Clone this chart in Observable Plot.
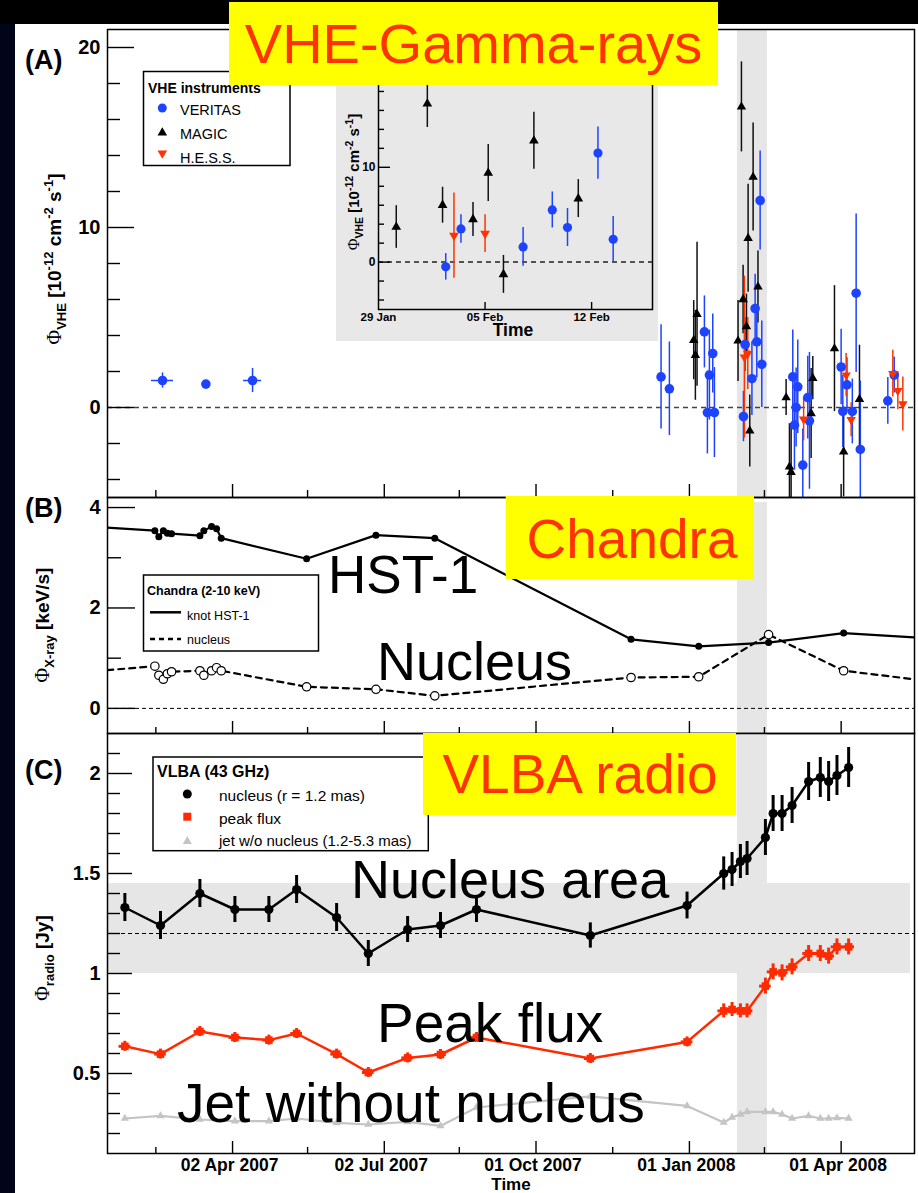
<!DOCTYPE html>
<html><head><meta charset="utf-8">
<script src="https://cdn.jsdelivr.net/npm/d3@7"></script>
<script src="https://cdn.jsdelivr.net/npm/@observablehq/plot@0.6"></script>
<style>
html,body{margin:0;padding:0;background:#000;}
#page{position:relative;width:918px;height:1193px;overflow:hidden;background:#000;font-family:"Liberation Sans",Arial,sans-serif;}
#leftstrip{position:absolute;left:0;top:24px;width:15px;height:1169px;background:#02041a;}
#sheet{position:absolute;left:15px;top:24px;width:903px;height:1169px;background:#fff;}
</style></head>
<body><div id="page"><div id="leftstrip"></div><div id="sheet"></div></div>
<script>
// ---------------- DATA ----------------
const xDomainDates = ["2007-01-17", "2008-05-15"];
const xTickDates = ["2007-04-02", "2007-07-02", "2007-10-01", "2008-01-01", "2008-04-01"];
const xTickLabels = ["02 Apr 2007", "02 Jul 2007", "01 Oct 2007", "01 Jan 2008", "01 Apr 2008"];
const xMinorDates = ["2007-02-15", "2007-05-17", "2007-08-16", "2007-11-16", "2008-02-15"];
const flareWindow = ["2008-01-29T19:00", "2008-02-16T19:00"];

// (A) VHE gamma rays [1e-12 cm^-2 s^-1]
const veritasDates = ["2007-02-19","2007-03-17","2007-04-14","2007-12-15","2007-12-20","2008-01-10","2008-01-11T19:00","2008-01-13","2008-01-15","2008-01-16","2008-02-02T10:00","2008-02-03T10:00","2008-02-07T12:00","2008-02-09T10:00","2008-02-10T10:00","2008-02-12T10:00","2008-02-13T10:00","2008-03-03","2008-03-04","2008-03-05","2008-03-06","2008-03-09","2008-03-12","2008-03-13","2008-04-01","2008-04-02","2008-04-04T12:00","2008-04-07T17:00","2008-04-10","2008-04-12T12:00","2008-04-29","2008-05-02T20:00"];
const veritasFlux = [1.5,1.3,1.5,1.7,1.04,4.2,-0.28,1.8,3.0,-0.28,-0.5,3.5,1.6,5.5,3.65,11.5,2.4,1.7,-0.98,0.0,1.15,-3.2,0.55,-0.74,2.25,-0.22,1.26,-0.22,6.35,-2.33,0.37,1.8];
const veritasErr = [0.42,0,0.67,2.9,2.6,2.0,2.3,2.5,2.2,2.5,1.4,1.5,2.05,1.9,2.0,2.75,2.4,2.6,2.5,2.2,2.6,2.0,2.3,3.8,2.1,2.0,1.5,1.8,4.4,3.8,1.3,1.0];
const veritasTimeErr = [6.6,0,5.4,0,0,0,0,0,0,0,0,0,0,0,0,0,0,0,0,0,0,0,0,0,0,0,0,0,0,0,0,0];

const magicDates = ["2008-01-03T14:00","2008-01-04T14:00","2008-01-05T14:00","2008-01-30T04:00","2008-02-01T05:00","2008-02-02T05:00","2008-02-04T05:00","2008-02-05T05:00","2008-02-06T05:00","2008-02-08T05:00","2008-02-11T03:00","2008-02-28","2008-03-01","2008-03-02","2008-03-14","2008-03-15","2008-03-28","2008-04-02T12:00","2008-04-12"];
const magicFlux = [3.74,2.9,5.18,3.7,16.7,6.0,4.5,9.4,-1.3,12.8,6.7,0.55,-3.3,-3.6,-0.33,1.63,3.27,-2.46,0.46];
const magicErr = [2.2,2.5,4.0,2.25,2.5,1.9,1.8,3.0,2.0,3.0,2.0,1.0,2.4,2.6,2.5,1.2,3.5,2.5,3.0];

const hessDates = ["2008-02-02T23:00","2008-02-05T00:00","2008-03-09T12:00","2008-04-04","2008-04-07","2008-05-02","2008-05-05","2008-05-08"];
const hessFlux = [2.8,3.0,-0.65,1.8,-0.68,1.88,0.93,0.19];
const hessErr = [4.5,2.0,1.2,1.2,0.95,1.3,1.05,1.5];

const vheMajor = [0, 10, 20];
const vheMinor = [-4, -2, 2, 4, 6, 8, 12, 14, 16, 18];
const insetDomainDates = ["2008-01-29", "2008-02-16"];
const insetTickDates = ["2008-01-29", "2008-02-05", "2008-02-12"];
const insetTickLabels = ["29 Jan", "05 Feb", "12 Feb"];
const insetMajor = [0, 10];
const insetMinor = [-4, -2, 2, 4, 6, 8, 12, 14, 16, 18];

// (B) Chandra 2-10 keV [keV/s]
const chandraDates = ["2006-12-15","2007-02-14T10:00","2007-02-16T19:00","2007-02-19T12:00","2007-02-21T22:00","2007-02-24T10:00","2007-03-13T10:00","2007-03-15T19:00","2007-03-20T10:00","2007-03-23T10:00","2007-03-26T05:00","2007-05-16T10:00","2007-06-27","2007-08-01T07:00","2007-11-27","2008-01-06T14:00","2008-02-17T12:00","2008-04-02T12:00","2008-06-01"];
const hst1Rate = [3.67,3.54,3.42,3.54,3.49,3.48,3.44,3.54,3.62,3.58,3.39,2.98,3.45,3.39,1.375,1.236,1.31,1.5,1.38];
const nucleusRate = [0.67,0.84,0.66,0.58,0.69,0.73,0.75,0.66,0.75,0.81,0.75,0.43,0.38,0.25,0.615,0.63,1.47,0.75,0.51];
const xrayMajor = [0, 2, 4];
const xrayMinor = [1, 3];

// (C) VLBA 43 GHz [Jy]
const vlbaDates = ["2007-01-27T10:00","2007-02-17T19:00","2007-03-13T10:00","2007-04-03T10:00","2007-04-23T19:00","2007-05-10T10:00","2007-06-03T10:00","2007-06-22T10:00","2007-07-16","2007-08-04T17:00","2007-08-26T07:00","2007-11-02T14:00","2007-12-30T14:00","2008-01-21T14:00","2008-01-26T14:00","2008-01-31T14:00","2008-02-04T14:00","2008-02-15T14:00","2008-02-20T05:00","2008-02-25T14:00","2008-03-02T14:00","2008-03-12T12:00","2008-03-19T12:00","2008-03-24T12:00","2008-03-29T12:00","2008-04-05T12:00"];
const vlbaNucleus = [1.33,1.24,1.40,1.32,1.32,1.42,1.28,1.10,1.22,1.24,1.32,1.19,1.34,1.50,1.52,1.56,1.575,1.68,1.80,1.80,1.84,1.96,1.98,1.96,1.99,2.03];
const vlbaNucleusErr = [0.07,0.07,0.07,0.065,0.065,0.07,0.07,0.065,0.065,0.065,0.065,0.063,0.067,0.083,0.085,0.085,0.085,0.09,0.09,0.09,0.09,0.095,0.1,0.1,0.1,0.1];
const vlbaPeak = [0.636,0.597,0.71,0.68,0.667,0.70,0.597,0.505,0.578,0.595,0.68,0.575,0.658,0.813,0.82,0.813,0.813,0.937,1.008,1.003,1.033,1.10,1.10,1.087,1.133,1.133];
const vlbaPeakErr = [0.025,0.025,0.025,0.025,0.025,0.025,0.025,0.025,0.025,0.025,0.025,0.025,0.025,0.035,0.035,0.035,0.035,0.04,0.04,0.04,0.04,0.04,0.04,0.04,0.04,0.04];
const vlbaJet = [0.275,0.288,0.27,0.262,0.262,0.275,0.253,0.245,0.258,0.238,0.33,0.386,0.338,0.255,0.28,0.296,0.308,0.308,0.308,0.296,0.275,0.288,0.275,0.275,0.278,0.275];
const nucleusRange = [1.0, 1.45];
const nucleusLevel = [1.2];
const radioMajor = [0.5, 1, 1.5, 2];
const radioMinor = [0.2,0.3,0.4,0.6,0.7,0.8,0.9,1.1,1.2,1.3,1.4,1.6,1.7,1.8,1.9,2.1];

// ---------------- HELPERS ----------------
const D = s => new Date(s.length > 10 ? s + ":00Z" : s + "T00:00:00Z");
const blue = "#1d43ff", red = "#ff3300", radioRed = "#ff2a00", jetGray = "#c4c4c4", bandGray = "#e6e6e6";
const page = document.getElementById("page");
const W = 918, ML = 107, MR = 4, plotW = W - ML - MR;
const xDomain = xDomainDates.map(D);
const xMajor = xTickDates.map(D), xMinor = xMinorDates.map(D);
const labelMap = new Map(xMajor.map((d, i) => [+d, xTickLabels[i]]));
const band = [{x1: D(flareWindow[0]), x2: D(flareWindow[1])}];
const DAY = 864e5;

const veritas = veritasDates.map((d, i) => ({date: D(d), v: veritasFlux[i], e: veritasErr[i], xe: veritasTimeErr[i]}));
const magic = magicDates.map((d, i) => ({date: D(d), v: magicFlux[i], e: magicErr[i]}));
const hess = hessDates.map((d, i) => ({date: D(d), v: hessFlux[i], e: hessErr[i]}));
const chandra = chandraDates.map((d, i) => ({date: D(d), hst1: hst1Rate[i], nuc: nucleusRate[i]}));
const vlba = vlbaDates.map((d, i) => ({date: D(d), nuc: vlbaNucleus[i], ne: vlbaNucleusErr[i], peak: vlbaPeak[i], pe: vlbaPeakErr[i], jet: vlbaJet[i]}));

const commonStyle = {background: "transparent", fontFamily: "'Liberation Sans', Arial, sans-serif", fontWeight: "bold", color: "#000", overflow: "visible"};

function place(svg, left, top, z) {
  svg.style.position = "absolute"; svg.style.left = left + "px"; svg.style.top = top + "px";
  if (z) svg.style.zIndex = z;
  page.appendChild(svg);
}
function frameTicks(pw, ph, yMaj, yMin, majLen, minLen, xMaj, xMin, xMajLen, xMinLen) {
  const m = [
    Plot.tickY(yMaj, {y: d => d, insetRight: pw - majLen, stroke: "#000", strokeWidth: 1.4}),
    Plot.tickY(yMin, {y: d => d, insetRight: pw - minLen, stroke: "#000", strokeWidth: 1.4}),
    Plot.tickX(xMaj, {x: d => d, insetTop: ph - xMajLen, stroke: "#000", strokeWidth: 1.4})
  ];
  if (xMin) m.push(Plot.tickX(xMin, {x: d => d, insetTop: ph - xMinLen, stroke: "#000", strokeWidth: 1.4}));
  return m;
}
function errY(data, stroke, sw, extra = {}) {
  return Plot.ruleX(data, {x: "date", y1: d => d.v - d.e, y2: d => d.v + d.e, stroke, strokeWidth: sw, clip: true, ...extra});
}

// ---------------- PANEL A ----------------
const hA = 468;
const plotA = Plot.plot({
  width: W, height: 500, marginTop: 29, marginBottom: 3, marginLeft: ML, marginRight: MR,
  style: commonStyle,
  x: {type: "utc", domain: xDomain, axis: null},
  y: {domain: [-5, 21], axis: null},
  marks: [
    Plot.rect(band, {x1: "x1", x2: "x2", fill: bandGray}),
    Plot.ruleY([0], {stroke: "#444", strokeWidth: 1.5, strokeDasharray: "5,4"}),
    ...frameTicks(plotW, hA, vheMajor, vheMinor, 27, 13, xMajor, xMinor, 13, 7),
    Plot.axisY(vheMajor, {tickSize: 0, tickPadding: 7, fontSize: 20, tickFormat: d => String(d), label: null}),
    Plot.ruleY(veritas.filter(d => d.xe > 0), {y: "v", x1: d => new Date(+d.date - d.xe * DAY), x2: d => new Date(+d.date + d.xe * DAY), stroke: blue, strokeWidth: 1.5}),
    errY(magic, "#111", 1.5),
    errY(veritas, blue, 1.5),
    errY(hess, red, 1.5),
    Plot.dot(magic, {x: "date", y: "v", symbol: "triangle", r: 3.5, fill: "#000", clip: true}),
    Plot.dot(veritas, {x: "date", y: "v", symbol: "circle", r: 4.8, fill: blue, clip: true}),
    Plot.dot(hess, {x: "date", y: "v", symbol: "triangle", rotate: 180, r: 3.5, fill: red, clip: true}),
    Plot.frame({stroke: "#000", strokeWidth: 1.5})
  ]
});
place(plotA, 0, 0, 1);

// ---------------- INSET ----------------
const inDomain = insetDomainDates.map(D);
const inSel = d => d.date >= inDomain[0] && d.date <= inDomain[1];
const inTicks = insetTickDates.map(D);
const inLabelMap = new Map(inTicks.map((d, i) => [+d, insetTickLabels[i]]));
const inW = 322, inH = 279, inML = 42, inMR = 6, inMT = 10, inMB = 32;
const plotInset = Plot.plot({
  width: inW, height: inH, marginTop: inMT, marginBottom: inMB, marginLeft: inML, marginRight: inMR,
  style: {...commonStyle, background: "#e8e8e8"},
  x: {type: "utc", domain: inDomain, axis: null},
  y: {domain: [-5, 20], axis: null},
  marks: [
    Plot.ruleY([0], {stroke: "#222", strokeWidth: 1.5, strokeDasharray: "5,4"}),
    ...frameTicks(inW - inML - inMR, inH - inMT - inMB, insetMajor, insetMinor, 12, 6, inTicks.slice(1), null, 7, 0),
    Plot.axisY(insetMajor, {tickSize: 0, tickPadding: 3, fontSize: 12, tickFormat: d => String(d), label: null}),
    Plot.axisX(inTicks, {tickSize: 0, tickPadding: 3, fontSize: 11.5, tickFormat: d => inLabelMap.get(+d), label: null}),
    errY(magic.filter(inSel), "#111", 1.5),
    errY(veritas.filter(inSel), blue, 1.5),
    errY(hess.filter(inSel), red, 1.5),
    Plot.dot(magic.filter(inSel), {x: "date", y: "v", symbol: "triangle", r: 3.6, fill: "#000", clip: true}),
    Plot.dot(veritas.filter(inSel), {x: "date", y: "v", symbol: "circle", r: 4.6, fill: blue, clip: true}),
    Plot.dot(hess.filter(inSel), {x: "date", y: "v", symbol: "triangle", rotate: 180, r: 3.6, fill: red, clip: true}),
    Plot.frame({stroke: "#000", strokeWidth: 1.5})
  ]
});
place(plotInset, 336, 62, 2);

// ---------------- PANEL B ----------------
const hB = 236;
const plotB = Plot.plot({
  width: W, height: 250, marginTop: 7, marginBottom: 7, marginLeft: ML, marginRight: MR,
  style: commonStyle,
  x: {type: "utc", domain: xDomain, axis: null},
  y: {domain: [-0.5, 4.2], axis: null},
  marks: [
    Plot.rect(band, {x1: "x1", x2: "x2", fill: bandGray, insetTop: 5}),
    Plot.ruleY([0], {stroke: "#000", strokeWidth: 1, strokeDasharray: "4,3"}),
    ...frameTicks(plotW, hB, xrayMajor, xrayMinor, 28, 14, xMajor, xMinor, 12, 6),
    Plot.axisY(xrayMajor, {tickSize: 0, tickPadding: 7, fontSize: 20, tickFormat: d => String(d), label: null}),
    Plot.line(chandra, {x: "date", y: "hst1", stroke: "#000", strokeWidth: 2.2, clip: true}),
    Plot.line(chandra, {x: "date", y: "nuc", stroke: "#000", strokeWidth: 2.2, strokeDasharray: "6,5", clip: true}),
    Plot.dot(chandra, {x: "date", y: "hst1", r: 3.5, fill: "#000", clip: true}),
    Plot.dot(chandra, {x: "date", y: "nuc", r: 4.2, fill: "#fff", stroke: "#000", strokeWidth: 1.2, clip: true}),
    Plot.frame({stroke: "#000", strokeWidth: 1.5})
  ]
});
place(plotB, 0, 490, 1);

// ---------------- PANEL C ----------------
const hC = 420;
const plotC = Plot.plot({
  width: W, height: 467, marginTop: 7, marginBottom: 40, marginLeft: ML, marginRight: MR,
  style: commonStyle,
  x: {type: "utc", domain: xDomain, axis: null},
  y: {domain: [0.1, 2.2], axis: null},
  marks: [
    Plot.rect([nucleusRange], {y1: d => d[0], y2: d => d[1], fill: bandGray, insetRight: 4}),
    Plot.rect(band, {x1: "x1", x2: "x2", fill: bandGray}),
    Plot.ruleY(nucleusLevel, {stroke: "#000", strokeWidth: 1, strokeDasharray: "4,3"}),
    ...frameTicks(plotW, hC, radioMajor, radioMinor, 25, 13, xMajor, xMinor, 12, 6),
    Plot.axisY(radioMajor, {tickSize: 0, tickPadding: 7, fontSize: 20, tickFormat: d => String(d), label: null}),
    Plot.axisX(xMajor, {tickSize: 0, tickPadding: 5, fontSize: 17.5, dx: -3, tickFormat: d => labelMap.get(+d), label: null}),
    Plot.line(vlba, {x: "date", y: "jet", stroke: jetGray, strokeWidth: 2.2}),
    Plot.dot(vlba, {x: "date", y: "jet", symbol: "triangle", r: 3, fill: jetGray}),
    Plot.line(vlba, {x: "date", y: "peak", stroke: radioRed, strokeWidth: 2.5}),
    Plot.ruleX(vlba, {x: "date", y1: d => d.peak - d.pe, y2: d => d.peak + d.pe, stroke: radioRed, strokeWidth: 3}),
    Plot.ruleY(vlba, {y: "peak", x1: d => new Date(+d.date - 3.5 * DAY), x2: d => new Date(+d.date + 3.5 * DAY), stroke: radioRed, strokeWidth: 3}),
    Plot.dot(vlba, {x: "date", y: "peak", symbol: "square", r: 4.3, fill: radioRed}),
    Plot.line(vlba, {x: "date", y: "nuc", stroke: "#000", strokeWidth: 2.5}),
    Plot.ruleX(vlba, {x: "date", y1: d => d.nuc - d.ne, y2: d => d.nuc + d.ne, stroke: "#000", strokeWidth: 3}),
    Plot.dot(vlba, {x: "date", y: "nuc", r: 4.6, fill: "#000"}),
    Plot.frame({stroke: "#000", strokeWidth: 1.5})
  ]
});
place(plotC, 0, 726, 1);

// ---------------- OVERLAY: titles, legends, labels ----------------
const ov = document.createElementNS("http://www.w3.org/2000/svg", "svg");
ov.setAttribute("width", W); ov.setAttribute("height", 1193);
ov.setAttribute("font-family", "Liberation Sans, Arial, sans-serif");
ov.innerHTML = `
  <text x="25" y="69" font-size="27" font-weight="bold">(A)</text>
  <text x="25" y="517" font-size="27" font-weight="bold">(B)</text>
  <text x="25" y="779" font-size="27" font-weight="bold">(C)</text>

  <text transform="translate(61,259) rotate(-90)" text-anchor="middle" font-weight="bold" font-size="19"><tspan font-family="Liberation Serif, serif" font-weight="normal" font-size="20">Φ</tspan><tspan font-size="13" dy="5">VHE</tspan><tspan dy="-5"> [10</tspan><tspan font-size="13" dy="-8">-12</tspan><tspan dy="8"> cm</tspan><tspan font-size="13" dy="-8">-2</tspan><tspan dy="8"> s</tspan><tspan font-size="13" dy="-8">-1</tspan><tspan dy="8">]</tspan></text>
  <text transform="translate(49,625) rotate(-90)" text-anchor="middle" font-weight="bold" font-size="19"><tspan font-family="Liberation Serif, serif" font-weight="normal" font-size="20">Φ</tspan><tspan font-size="13" dy="5">X-ray</tspan><tspan dy="-5"> [keV/s]</tspan></text>
  <text transform="translate(49,958) rotate(-90)" text-anchor="middle" font-weight="bold" font-size="19"><tspan font-family="Liberation Serif, serif" font-weight="normal" font-size="20">Φ</tspan><tspan font-size="13" dy="5">radio</tspan><tspan dy="-5"> [Jy]</tspan></text>
  <text x="511" y="1190" text-anchor="middle" font-weight="bold" font-size="17">Time</text>

  <text transform="translate(359,182) rotate(-90)" text-anchor="middle" font-weight="bold" font-size="15"><tspan font-family="Liberation Serif, serif" font-weight="normal" font-size="16">Φ</tspan><tspan font-size="10.5" dy="4">VHE</tspan><tspan dy="-4"> [10</tspan><tspan font-size="10.5" dy="-6">-12</tspan><tspan dy="6"> cm</tspan><tspan font-size="10.5" dy="-6">-2</tspan><tspan dy="6"> s</tspan><tspan font-size="10.5" dy="-6">-1</tspan><tspan dy="6">]</tspan></text>
  <text x="513" y="336" text-anchor="middle" font-weight="bold" font-size="17.5">Time</text>

  <g>
    <rect x="143.5" y="71.5" width="146.5" height="94" fill="#fff" stroke="#000" stroke-width="1.5"/>
    <text x="148" y="92.5" font-weight="bold" font-size="14">VHE instruments</text>
    <circle cx="162.3" cy="108" r="4.5" fill="${blue}"/>
    <text x="180" y="115" font-size="14.5">VERITAS</text>
    <polygon points="157.5,135.5 167.1,135.5 162.3,127.3" fill="#000"/>
    <text x="180" y="139" font-size="14.5">MAGIC</text>
    <polygon points="157.5,150.5 167.1,150.5 162.3,158.7" fill="${red}"/>
    <text x="180" y="163" font-size="14.5">H.E.S.S.</text>
  </g>
  <g>
    <rect x="143.5" y="575" width="175" height="76" fill="#fff" stroke="#000" stroke-width="1.5"/>
    <text x="147" y="595" font-weight="bold" font-size="12.5">Chandra (2-10 keV)</text>
    <line x1="150" x2="181" y1="612.3" y2="612.3" stroke="#000" stroke-width="2.5"/>
    <text x="187" y="620" font-size="12.5">knot HST-1</text>
    <line x1="150" x2="181" y1="639" y2="639" stroke="#000" stroke-width="2.5" stroke-dasharray="5,4"/>
    <text x="187" y="644" font-size="12.5">nucleus</text>
  </g>
  <g>
    <rect x="153" y="757" width="275.3" height="93.7" fill="#fff" stroke="#000" stroke-width="1.5"/>
    <text x="157" y="777" font-weight="bold" font-size="16">VLBA (43 GHz)</text>
    <circle cx="187.3" cy="794" r="4.5" fill="#000"/>
    <text x="219" y="801" font-size="15.5">nucleus (r = 1.2 mas)</text>
    <rect x="183.3" y="812.7" width="8" height="8" fill="${radioRed}"/>
    <text x="219" y="824" font-size="15.5">peak flux</text>
    <polygon points="182.8,844 191.8,844 187.3,836" fill="${jetGray}"/>
    <text x="219" y="845.5" font-size="15">jet w/o nucleus (1.2-5.3 mas)</text>
  </g>

  <text x="328" y="593" font-size="53">HST-1</text>
  <text x="377" y="680" font-size="54">Nucleus</text>
  <text x="351" y="898" font-size="54">Nucleus area</text>
  <text x="377" y="1042" font-size="55">Peak flux</text>
  <text x="177" y="1122" font-size="55">Jet without nucleus</text>

  <rect x="229" y="2" width="489" height="83" fill="#ffff00"/>
  <text x="473.5" y="63" text-anchor="middle" font-size="56" fill="${red}">VHE-Gamma-rays</text>
  <rect x="505.7" y="496" width="248.3" height="83" fill="#ffff00"/>
  <text x="632" y="558" text-anchor="middle" font-size="55" fill="${red}">Chandra</text>
  <rect x="423" y="733" width="313" height="82" fill="#ffff00"/>
  <text x="580" y="793" text-anchor="middle" font-size="55" fill="${red}">VLBA radio</text>
`;
ov.style.position = "absolute"; ov.style.left = "0px"; ov.style.top = "0px"; ov.style.zIndex = 5;
page.appendChild(ov);
</script>
</body></html>
